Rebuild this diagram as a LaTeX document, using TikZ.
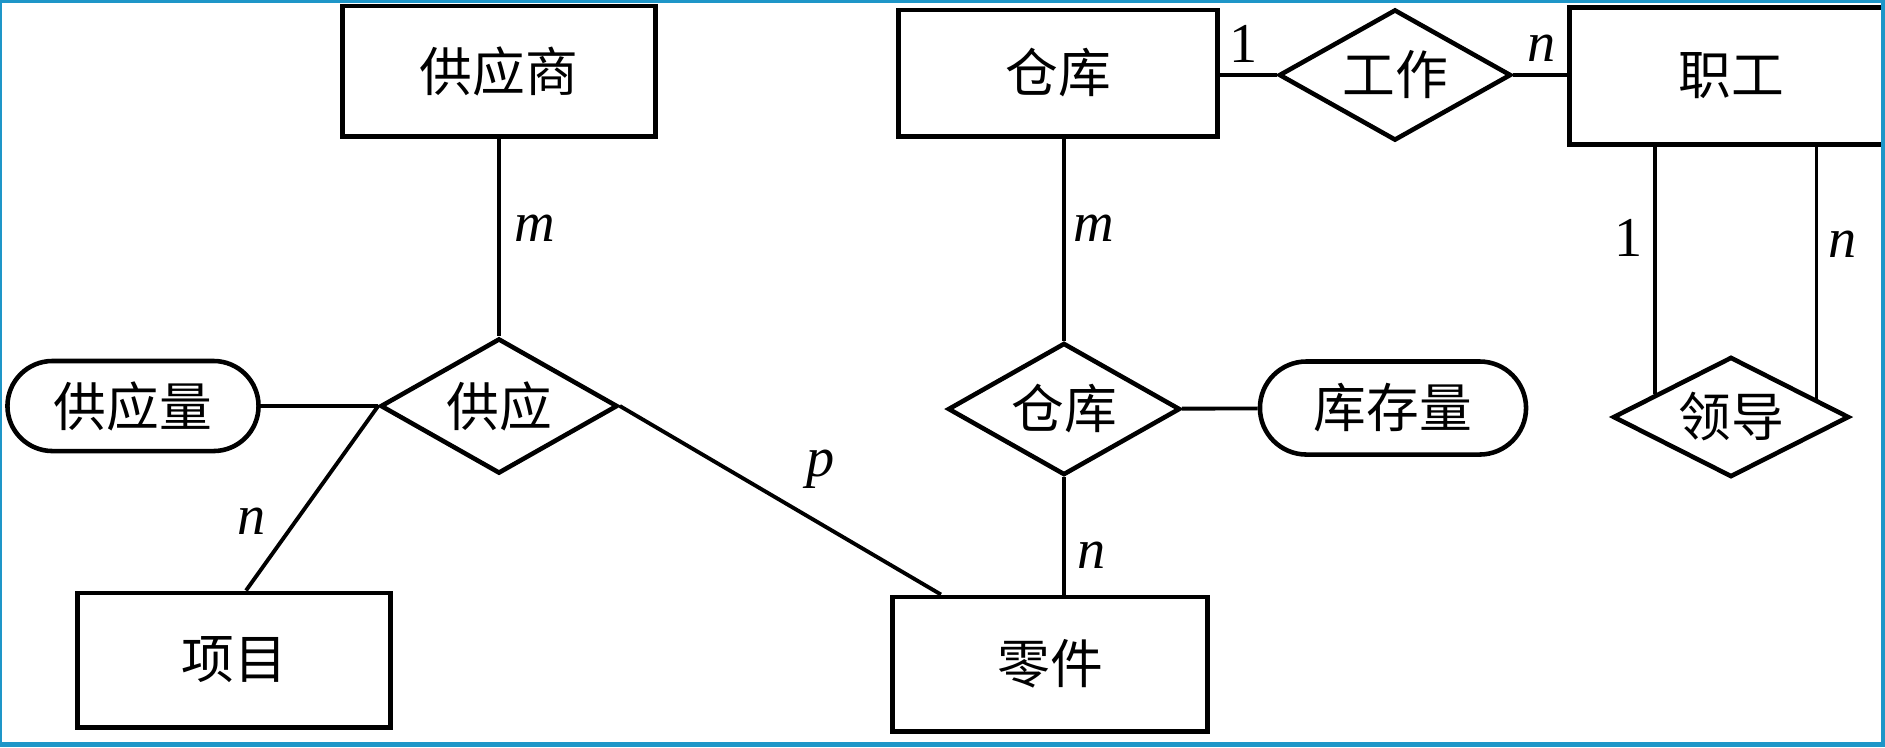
\documentclass[tikz,border=0pt]{standalone}
\usepackage{fontspec}
\setmainfont{Liberation Serif}
\newfontfamily\cjk{Noto Sans CJK SC}
\usepackage{xcolor}
\usetikzlibrary{positioning,calc}
\usetikzlibrary{shapes.geometric,shapes.misc}
\definecolor{framecol}{RGB}{30,150,200}
\tikzset{
  ent/.style={draw,line width=1.4pt,minimum width=3.13cm,minimum height=1.3cm,font=\cjk\fontsize{15}{18}\selectfont},
  rel/.style={draw,diamond,line width=1.3pt,inner sep=1pt,shape aspect=1.75,font=\cjk\fontsize{15}{18}\selectfont},
  attr/.style={draw,rounded rectangle,line width=1.3pt,inner sep=1pt,font=\cjk\fontsize{15}{18}\selectfont},
  conn/.style={line width=1.1pt},
  card/.style={font=\itshape\fontsize{16}{18}\selectfont},
  one/.style={font=\fontsize{16}{18}\selectfont},
}

\begin{document}
\begin{tikzpicture}[x=0.01cm,y=-0.01cm]
            \useasboundingbox (0,0) rectangle (1885,747);
            \fill[white] (0,0) rectangle (1885,747);

            % entities
            \node[ent] (gys) at (499,71) {供应商};
            \node[ent,minimum width=3.19cm,minimum height=1.26cm] (ck) at (1058,73) {仓库};
            \node[ent,draw=none,minimum width=3.18cm,minimum height=1.32cm] (zg) at (1731,76) {职工};
            \draw[line width=1.4pt] (1885,0 |- zg.north) -- (zg.north west) -- (zg.south west) -- (1885,0 |- zg.south);
            \node[ent,minimum height=1.34cm] (xm) at (234,660) {项目};
            \node[ent,minimum width=3.15cm,minimum height=1.34cm] (lj) at (1050,664) {零件};

            % relationships
            \node[rel,minimum width=2.37cm,minimum height=1.35cm] (gy) at (499,406) {供应};
            \node[rel,minimum width=2.32cm,minimum height=1.32cm] (ckr) at (1064,409) {仓库};
            \node[rel,minimum width=2.32cm,minimum height=1.31cm] (gz) at (1395,75) {工作};
            \node[rel,minimum width=2.36cm,minimum height=1.2cm] (ld) at (1731,417) {领导};

            % attributes
            \node[attr,minimum width=2.58cm,minimum height=0.9cm] (gyl) at (133,406) {供应量};
            \node[attr,minimum width=2.73cm,minimum height=0.93cm] (kcl) at (1393,408) {库存量};

            % links
            \draw[conn] (gys) -- (gy);
            \draw[conn] (gyl) -- (gy);
            \draw[conn] (gy.west) -- ($(xm.north)+(12,0)$);
            \draw[conn] (gy.east) -- ($(lj.north west)+(51,0)$);
            \draw[conn] (ck.south -| ckr.north) -- (ckr.north);
            \draw[conn] (ckr.south) -- (ckr.south |- lj.north);
            \draw[conn] (ckr) -- (kcl);
            \draw[conn] (gz.west -| ck.east) -- (gz.west);
            \draw[conn] (gz.east) -- (gz.east -| zg.west);
            \coordinate (ldl) at ($(ld.west)!0.37!(ld.north)$);
            \coordinate (ldr) at ($(ld.east)!0.29!(ld.north)$);
            \draw[conn] (ldl |- zg.south) -- (ldl);
            \draw[conn] (ldr |- zg.south) -- (ldr);

            % cardinalities
            \node[card] (m1) at (535,228) {m};
            \node[card] (n1) at (252,521) {n};
            \node[card] (p1) at (821,469) {p};
            \node[card] (m2) at (1094,228) {m};
            \node[card] (n2) at (1092,555) {n};
            \node[one] (o1) at (1244,44) {1};
            \node[card] (n3) at (1542,48) {n};
            \node[one] (o2) at (1629,238) {1};
            \node[card] (n4) at (1843,244) {n};

            % frame
            \fill[framecol] (0,0) rectangle (1885,3);
            \fill[framecol] (0,0) rectangle (2,747);
            \fill[framecol] (1881,0) rectangle (1885,747);
            \fill[framecol] (0,742) rectangle (1885,747);
        \end{tikzpicture}
\end{document}
